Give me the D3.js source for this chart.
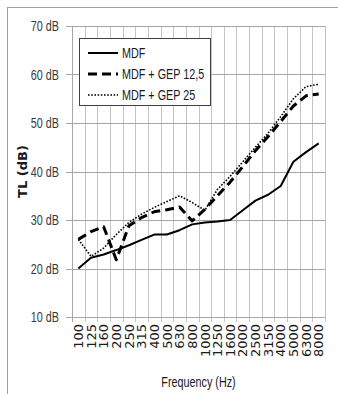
<!DOCTYPE html>
<html>
<head>
<meta charset="utf-8">
<script src="https://cdn.jsdelivr.net/npm/d3@7"></script>
<style>
  body { margin: 0; background: #fff; }
  svg { display: block; }
</style>
</head>
<body>
<div id="chart"></div>
<script>
var freqs = ["100", "125", "160", "200", "250", "315", "400", "500", "630", "800",
  "1000", "1250", "1600", "2000", "2500", "3150", "4000", "5000", "6300", "8000"];

var mdf = [20.0, 22.2, 22.9, 23.8, 24.8, 25.9, 27.0, 27.0, 27.9, 29.1,
  29.5, 29.7, 30.0, 32.0, 34.0, 35.2, 37.0, 42.0, 44.0, 45.8];

var gep125 = [26.0, 27.6, 28.6, 21.8, 28.8, 30.5, 31.7, 32.1, 32.7, 29.8,
  32.2, 35.0, 37.8, 41.0, 44.3, 47.2, 50.3, 53.5, 55.6, 56.0];

var gep25 = [26.0, 22.5, 24.2, 27.0, 29.5, 31.2, 32.6, 33.8, 35.0, 33.6,
  32.0, 36.3, 39.0, 42.0, 45.0, 47.9, 51.3, 55.0, 57.5, 58.0];

var yTicks = [10, 20, 30, 40, 50, 60, 70];

var series = [
  {name: "MDF", values: mdf, width: 2, dash: null},
  {name: "MDF + GEP 12,5", values: gep125, width: 3, dash: "9,5"},
  {name: "MDF + GEP 25", values: gep25, width: 1.6, dash: "1.6,1.6"}
];

var W = 338, H = 394;
var sans = "'Liberation Sans', Arial, sans-serif";
var squeeze = 0.72;   // narrow look of the original font

var svg = d3.select("#chart").append("svg")
  .attr("width", W)
  .attr("height", H);

// outer frame
svg.append("rect")
  .attr("x", 7.5).attr("y", 7.5)
  .attr("width", 340).attr("height", 400)
  .attr("fill", "none")
  .attr("stroke", "#a0a0a0");

var x = d3.scaleBand()
  .domain(freqs)
  .range([72, 325])
  .padding(0);

var y = d3.scaleLinear()
  .domain([10, 70])
  .range([317, 26]);

var bw = x.bandwidth();

// narrow text helper
function narrowText(sel, px, py, str, anchor, size, color) {
  return sel.append("text")
    .attr("transform", "translate(" + px + "," + py + ") scale(" + squeeze + ",1)")
    .attr("dy", "0.35em")
    .attr("text-anchor", anchor)
    .attr("font-family", sans)
    .attr("font-size", size + "px")
    .attr("fill", color)
    .text(str);
}

// vertical grid at band boundaries, with small ticks below
var bounds = freqs.map(function(f){ return x(f); }).concat([x.range()[1]]);
svg.append("g").selectAll("line")
  .data(bounds.slice(1))
  .enter().append("line")
  .attr("x1", function(d){ return Math.round(d) + 0.5; })
  .attr("x2", function(d){ return Math.round(d) + 0.5; })
  .attr("y1", y(70))
  .attr("y2", y(10) + 5)
  .attr("stroke", "#c4c4c4")
  .attr("stroke-width", 1);

// horizontal grid
svg.append("g").selectAll("line")
  .data(yTicks)
  .enter().append("line")
  .attr("x1", 66)
  .attr("x2", x.range()[1])
  .attr("y1", function(d){ return Math.round(y(d)) + 0.5; })
  .attr("y2", function(d){ return Math.round(y(d)) + 0.5; })
  .attr("stroke", "#a6a6a6");

// left axis line
svg.append("line")
  .attr("x1", 72.5).attr("x2", 72.5)
  .attr("y1", y(70)).attr("y2", y(10) + 5)
  .attr("stroke", "#a6a6a6");

// y tick labels
var yl = svg.append("g");
yTicks.forEach(function(d){
  narrowText(yl, 59, y(d), d + " dB", "end", 15, "#3a3a3a");
});

// x tick labels (rotated)
svg.append("g").selectAll("text")
  .data(freqs)
  .enter().append("text")
  .attr("transform", function(d){
    return "translate(" + (x(d) + bw / 2) + "," + 324 + ") rotate(-90)";
  })
  .attr("dy", "0.36em")
  .attr("text-anchor", "end")
  .attr("font-family", "'DejaVu Sans', sans-serif")
  .attr("font-size", "13px")
  .attr("fill", "#1a1a1a")
  .text(function(d){ return d; });

// series lines
var line = d3.line()
  .x(function(d, i){ return x(freqs[i]) + bw / 2; })
  .y(function(d){ return y(d); });

svg.append("g").selectAll("path")
  .data(series)
  .enter().append("path")
  .attr("d", function(d){ return line(d.values); })
  .attr("fill", "none")
  .attr("stroke", "#000")
  .attr("stroke-width", function(d){ return d.width; })
  .attr("stroke-dasharray", function(d){ return d.dash; })
  .attr("stroke-linejoin", "round");

// legend
var lg = svg.append("g");
lg.append("rect")
  .attr("x", 79.5).attr("y", 38.5)
  .attr("width", 131).attr("height", 67)
  .attr("fill", "#fff")
  .attr("stroke", "#404040");

series.forEach(function(s, i){
  var ry = 53 + i * 21;
  lg.append("line")
    .attr("x1", 88).attr("x2", 118)
    .attr("y1", ry).attr("y2", ry)
    .attr("stroke", "#000")
    .attr("stroke-width", s.width)
    .attr("stroke-dasharray", s.dash);
  narrowText(lg, 122, ry, s.name, "start", 15, "#1a1a1a");
});

// axis titles
svg.append("text")
  .attr("transform", "translate(22," + ((y(10) + y(70)) / 2) + ") rotate(-90)")
  .attr("text-anchor", "middle")
  .attr("dy", "0.35em")
  .attr("font-family", "'DejaVu Sans', sans-serif")
  .attr("font-weight", "bold")
  .attr("font-size", "13px")
  .attr("fill", "#1a1a1a")
  .text("TL (dB)");

narrowText(svg, (x.range()[0] + x.range()[1]) / 2, 382, "Frequency (Hz)", "middle", 15, "#1a1a1a");
</script>
</body>
</html>
